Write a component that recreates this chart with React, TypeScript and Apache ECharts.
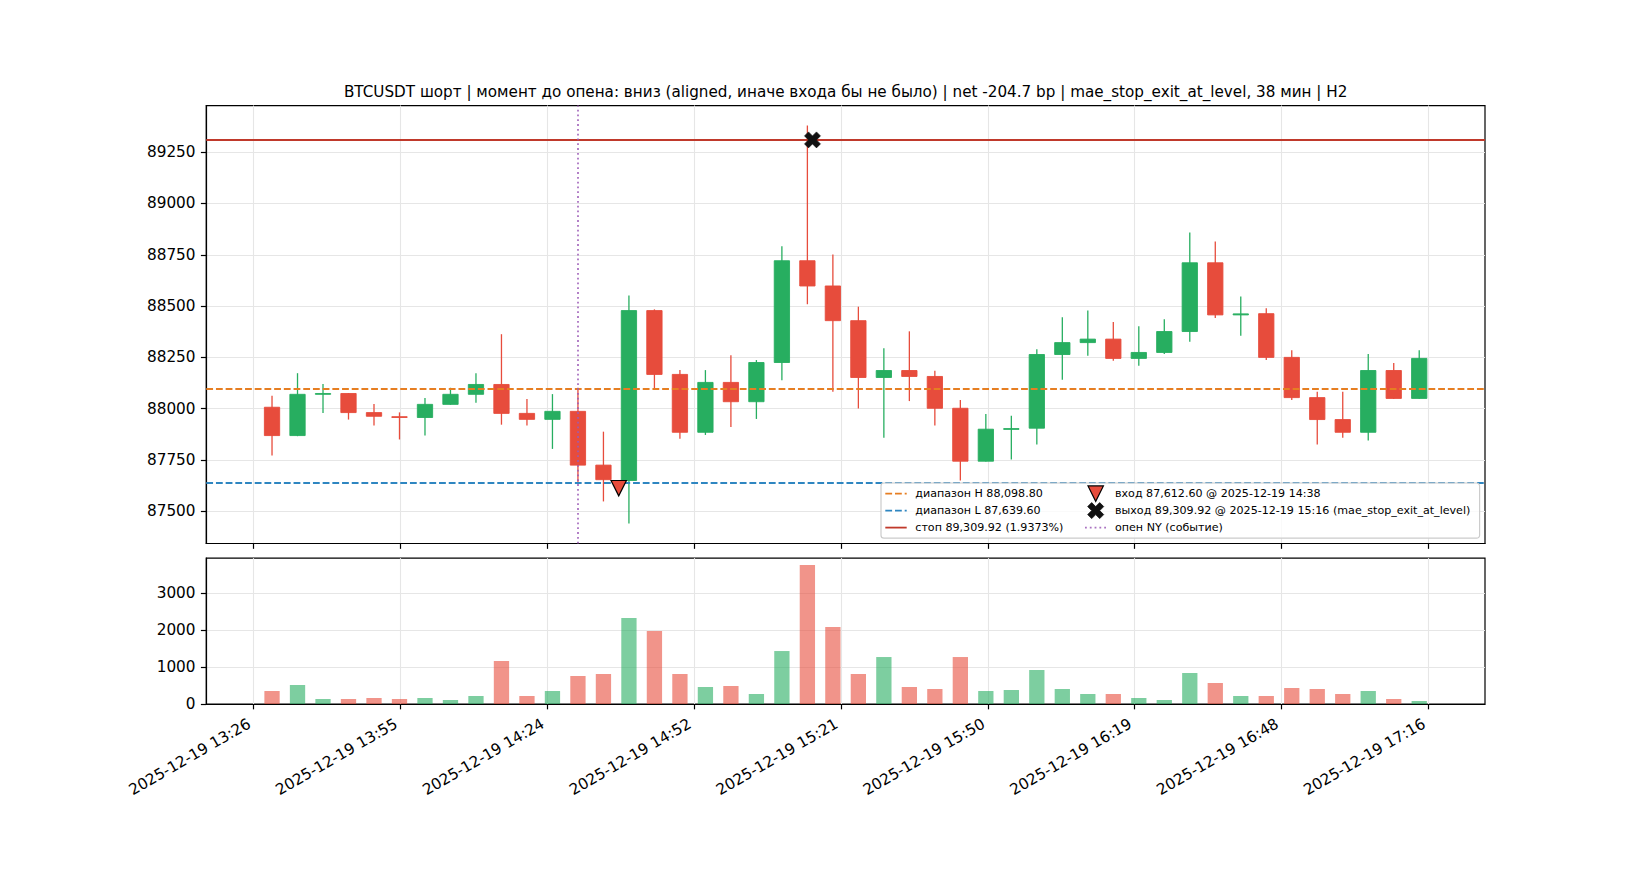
import React, { useEffect, useRef } from "react";
import * as echarts from "echarts";

// ---------- data ----------
const datePrefix = "2025-12-19";
const times = [
  "13:30", "13:35", "13:40", "13:45", "13:50", "13:55", "14:00", "14:05", "14:10", "14:15",
  "14:20", "14:25", "14:30", "14:35", "14:40", "14:45", "14:50", "14:55", "15:00", "15:05",
  "15:10", "15:15", "15:20", "15:25", "15:30", "15:35", "15:40", "15:45", "15:50", "15:55",
  "16:00", "16:05", "16:10", "16:15", "16:20", "16:25", "16:30", "16:35", "16:40", "16:45",
  "16:50", "16:55", "17:00", "17:05", "17:10", "17:15",
];
const opens = [
  88007, 87869, 88070, 88074, 87981, 87961, 87957, 88021, 88070, 88118,
  87977, 87948, 87987, 87725, 87650, 88478, 88167, 87885, 88128, 88034,
  88225, 88721, 88598, 88429, 88152, 88186, 88157, 88002, 87744, 87900,
  87905, 88264, 88322, 88339, 88245, 88274, 88376, 88711, 88457, 88463,
  88250, 88054, 87947, 87885, 88186, 88050,
];
const highs = [
  88063, 88173, 88120, 88076, 88023, 87982, 88052, 88102, 88173, 88363,
  88047, 88071, 88102, 87888, 88552, 88484, 88188, 88188, 88261, 88237,
  88792, 89380, 88751, 88497, 88295, 88377, 88185, 88042, 87974, 87965,
  88290, 88445, 88479, 88423, 88402, 88436, 88858, 88815, 88547, 88489,
  88285, 88083, 88083, 88266, 88223, 88285,
];
const lows = [
  87772, 87866, 87979, 87947, 87918, 87850, 87869, 88019, 88029, 87922,
  87918, 87804, 87642, 87548, 87440, 88099, 87853, 87872, 87911, 87950,
  88139, 88509, 88083, 88001, 87858, 88037, 87918, 87650, 87742, 87752,
  87825, 88141, 88258, 88233, 88209, 88266, 88326, 88442, 88355, 88237,
  88042, 87825, 87858, 87845, 88047, 88048,
];
const closes = [
  87869, 88070, 88074, 87981, 87963, 87957, 88021, 88070, 88118, 87977,
  87948, 87987, 87725, 87654, 88478, 88167, 87885, 88128, 88034, 88225,
  88721, 88598, 88429, 88152, 88186, 88157, 88002, 87744, 87900, 87903,
  88264, 88322, 88339, 88245, 88274, 88376, 88711, 88457, 88462, 88250,
  88054, 87947, 87885, 88186, 88050, 88245,
];
const volumes = [
  351, 514, 135, 135, 162, 135, 162, 108, 216, 1162,
  216, 351, 757, 811, 2324, 1973, 811, 459, 486, 270,
  1432, 3757, 2081, 811, 1270, 459, 405, 1270, 351, 378,
  919, 405, 270, 270, 162, 108, 838, 568, 216, 216,
  432, 405, 270, 351, 135, 81,
];

const rangeHigh = 88098.8;
const rangeLow = 87639.6;
const stopLevel = 89309.92;
const entryTime = "14:38";
const entryPrice = 87612.6;
const exitTime = "15:16";
const exitPrice = 89309.92;
const exitReason = "mae_stop_exit_at_level";
const nyOpenTime = "14:30";

const xTickDayFractions = [0.56, 0.58, 0.6, 0.62, 0.64, 0.66, 0.68, 0.7, 0.72];
const priceTicks = [87500, 87750, 88000, 88250, 88500, 88750, 89000, 89250];
const volumeTicks = [0, 1000, 2000, 3000];

const titleText =
  "BTCUSDT шорт | момент до опена: вниз (aligned, иначе входа бы не было) | net -204.7 bp | mae_stop_exit_at_level, 38 мин | H2";

// ---------- style ----------
const GREEN = "#27ae60";
const RED = "#e74c3c";
const ORANGE = "#e67e22";
const BLUE = "#2e86c1";
const STOP = "#c0392b";
const PURPLE = "rgba(155,89,182,0.85)";
const FONT = "DejaVu Sans";
const TICK_FS = 15.28;
const TITLE_FS = 15.2;
const LEG_FS = 11.1;
const BAR_MIN = 5; // candle period, minutes
const BODY_W = 0.6 * BAR_MIN;

const GRID_L = 206.25;
const GRID_W = 1278.75;
const MAIN_TOP = 105.6;
const MAIN_H = 437.9;
const VOL_TOP = 558.1;
const VOL_H = 145.9;

const toMin = (s: string) => {
  const [h, m] = s.split(":").map(Number);
  return h * 60 + m;
};
const pad2 = (n: number) => (n < 10 ? "0" + n : "" + n);
const fmt2 = (v: number) =>
  v.toLocaleString("en-US", { minimumFractionDigits: 2, maximumFractionDigits: 2 });

const X_PATH = "M1,0 L2,1 L3,0 L4,1 L3,2 L4,3 L3,4 L2,3 L1,4 L0,3 L1,2 L0,1 Z";

function buildOption() {
  const tMins = times.map(toMin);
  const xTicks = xTickDayFractions.map((f) => f * 1440);
  const xMin = tMins[0] - BODY_W / 2;
  const xMax = tMins[tMins.length - 1] + BODY_W / 2;
  const xPad = (xMax - xMin) * 0.05;
  const pLo = Math.min(...lows);
  const pHi = Math.max(...highs);
  const pPad = (pHi - pLo) * 0.05;
  const vMax = Math.max(...volumes) * 1.05;

  const candleData = tMins.map((t, i) => [t, opens[i], closes[i], lows[i], highs[i]]);
  const volData = tMins.map((t, i) => [t, volumes[i], closes[i] >= opens[i] ? 1 : 0]);

  const stopPct = ((stopLevel - entryPrice) / entryPrice) * 100;

  const axisTick = (vals: number[]) => ({
    show: true,
    customValues: vals,
    length: 5.35,
    inside: false,
    lineStyle: { color: "#000", width: 1.2 },
  });
  const splitLine = { show: true, lineStyle: { color: "#e6e6e6", width: 1.1 } };
  const axisLine = { show: true, lineStyle: { color: "#000", width: 1.2 } };

  const timeLabel = (v: number) => {
    const m = Math.floor(v + 1e-6);
    return `${datePrefix} ${pad2(Math.floor(m / 60))}:${pad2(m % 60)}`;
  };

  // legend
  const lx = 881;
  const ly = 483;
  const lw = 598.6;
  const lh = 55.2;
  const rows = [493.6, 510.6, 527.6];
  const c1h = [885.3, 906.7];
  const c1t = 915.3;
  const c2h = [1085, 1106.4];
  const c2m = 1095.7;
  const c2t = 1115;
  const legText = (text: string, x: number, y: number) => ({
    type: "text",
    z: 101,
    x,
    y,
    style: { text, fontSize: LEG_FS, fontFamily: FONT, fill: "#000", align: "left", verticalAlign: "middle" },
  });
  const legLine = (x1: number, x2: number, y: number, stroke: string, dash?: number[]) => ({
    type: "line",
    z: 101,
    shape: { x1, y1: y, x2, y2: y },
    style: { stroke, lineWidth: 1.8, lineDash: dash || null },
  });
  const ts = 7.7;
  const tri = {
    type: "polygon",
    z: 101,
    shape: {
      points: [
        [c2m - ts, rows[0] - ts],
        [c2m + ts, rows[0] - ts],
        [c2m, rows[0] + ts],
      ],
    },
    style: { fill: RED, stroke: "#000", lineWidth: 1.2 },
  };
  const xs = 4;
  const xPts = [
    [1, 0], [2, 1], [3, 0], [4, 1], [3, 2], [4, 3], [3, 4], [2, 3], [1, 4], [0, 3], [1, 2], [0, 1],
  ].map(([a, b]) => [c2m + (a - 2) * xs, rows[1] + (b - 2) * xs]);
  const xMark = {
    type: "polygon",
    z: 101,
    shape: { points: xPts },
    style: { fill: "#111", stroke: "#111", lineWidth: 0.8 },
  };

  const graphic = [
    {
      type: "text",
      x: GRID_L + GRID_W / 2,
      y: 92,
      style: {
        text: titleText,
        fontSize: TITLE_FS,
        fontFamily: FONT,
        fill: "#000",
        align: "center",
        verticalAlign: "middle",
      },
    },
    {
      type: "rect",
      z: 100,
      shape: { x: lx, y: ly, width: lw, height: lh, r: 3 },
      style: { fill: "rgba(255,255,255,0.8)", stroke: "#cccccc", lineWidth: 1.2 },
    },
    legLine(c1h[0], c1h[1], rows[0], ORANGE, [6.8, 2.9]),
    legLine(c1h[0], c1h[1], rows[1], BLUE, [6.8, 2.9]),
    legLine(c1h[0], c1h[1], rows[2], STOP),
    legText(`диапазон H ${fmt2(rangeHigh)}`, c1t, rows[0]),
    legText(`диапазон L ${fmt2(rangeLow)}`, c1t, rows[1]),
    legText(`стоп ${fmt2(stopLevel)} (${stopPct.toFixed(4)}%)`, c1t, rows[2]),
    tri,
    xMark,
    legLine(c2h[0], c2h[1], rows[2], PURPLE, [1.8, 3]),
    legText(`вход ${fmt2(entryPrice)} @ ${datePrefix} ${entryTime}`, c2t, rows[0]),
    legText(`выход ${fmt2(exitPrice)} @ ${datePrefix} ${exitTime} (${exitReason})`, c2t, rows[1]),
    legText("опен NY (событие)", c2t, rows[2]),
  ];

  return {
    animation: false,
    backgroundColor: "#ffffff",
    textStyle: { fontFamily: FONT },
    grid: [
      {
        left: GRID_L,
        top: MAIN_TOP,
        width: GRID_W,
        height: MAIN_H,
        show: true,
        borderColor: "#000",
        borderWidth: 1.2,
        backgroundColor: "transparent",
      },
      {
        left: GRID_L,
        top: VOL_TOP,
        width: GRID_W,
        height: VOL_H,
        show: true,
        borderColor: "#000",
        borderWidth: 1.2,
        backgroundColor: "transparent",
      },
    ],
    xAxis: [
      {
        type: "value",
        gridIndex: 0,
        min: xMin - xPad,
        max: xMax + xPad,
        axisLine,
        axisTick: axisTick(xTicks),
        axisLabel: { show: false, customValues: xTicks },
        splitLine,
      },
      {
        type: "value",
        gridIndex: 1,
        min: xMin - xPad,
        max: xMax + xPad,
        axisLine,
        axisTick: axisTick(xTicks),
        axisLabel: {
          show: true,
          customValues: xTicks,
          formatter: timeLabel,
          rotate: 30,
          margin: 16,
          padding: [0, 5, 0, 0],
          fontSize: TICK_FS,
          fontFamily: FONT,
          color: "#000",
        },
        splitLine,
      },
    ],
    yAxis: [
      {
        type: "value",
        gridIndex: 0,
        min: pLo - pPad,
        max: pHi + pPad,
        axisLine,
        axisTick: axisTick(priceTicks),
        axisLabel: {
          show: true,
          customValues: priceTicks,
          formatter: (v: number) => String(Math.round(v)),
          margin: 10.7,
          fontSize: TICK_FS,
          fontFamily: FONT,
          color: "#000",
        },
        splitLine,
      },
      {
        type: "value",
        gridIndex: 1,
        min: 0,
        max: vMax,
        axisLine,
        axisTick: axisTick(volumeTicks),
        axisLabel: {
          show: true,
          customValues: volumeTicks,
          formatter: (v: number) => String(Math.round(v)),
          margin: 10.7,
          fontSize: TICK_FS,
          fontFamily: FONT,
          color: "#000",
        },
        splitLine,
      },
    ],
    series: [
      {
        type: "scatter",
        xAxisIndex: 0,
        yAxisIndex: 0,
        data: [],
        z: 1,
        silent: true,
        markLine: {
          silent: true,
          symbol: ["none", "none"],
          label: { show: false },
          emphasis: { disabled: true },
          data: [
            { yAxis: stopLevel, lineStyle: { color: STOP, width: 1.8, type: "solid" } },
            { yAxis: rangeHigh, lineStyle: { color: ORANGE, width: 1.8, type: [6.8, 2.9] } },
            { yAxis: rangeLow, lineStyle: { color: BLUE, width: 1.8, type: [6.8, 2.9] } },
            { xAxis: toMin(nyOpenTime), lineStyle: { color: PURPLE, width: 1.8, type: [1.8, 3] } },
          ],
        },
      },
      {
        type: "custom",
        xAxisIndex: 0,
        yAxisIndex: 0,
        z: 2,
        silent: true,
        data: candleData,
        encode: { x: 0, y: [1, 2, 3, 4] },
        renderItem: (params: any, api: any) => {
          const t = api.value(0);
          const o = api.value(1);
          const c = api.value(2);
          const l = api.value(3);
          const h = api.value(4);
          const color = c >= o ? GREEN : RED;
          const pO = api.coord([t, o]);
          const pC = api.coord([t, c]);
          const pL = api.coord([t, l]);
          const pH = api.coord([t, h]);
          const w = api.size([BODY_W, 0])[0];
          const top = Math.min(pO[1], pC[1]);
          const hh = Math.max(Math.abs(pO[1] - pC[1]), 0.8);
          return {
            type: "group",
            children: [
              {
                type: "line",
                shape: { x1: pH[0], y1: pH[1], x2: pL[0], y2: pL[1] },
                style: { stroke: color, lineWidth: 1.3 },
              },
              {
                type: "rect",
                shape: { x: pO[0] - w / 2, y: top, width: w, height: hh },
                style: { fill: color, stroke: color, lineWidth: 0.9 },
              },
            ],
          };
        },
      },
      {
        type: "custom",
        xAxisIndex: 1,
        yAxisIndex: 1,
        z: 2,
        silent: true,
        data: volData,
        encode: { x: 0, y: 1 },
        renderItem: (params: any, api: any) => {
          const t = api.value(0);
          const v = api.value(1);
          const up = api.value(2);
          const p1 = api.coord([t - BODY_W / 2, v]);
          const p2 = api.coord([t + BODY_W / 2, 0]);
          return {
            type: "rect",
            shape: { x: p1[0], y: p1[1], width: p2[0] - p1[0], height: p2[1] - p1[1] },
            style: { fill: up ? GREEN : RED, opacity: 0.6 },
          };
        },
      },
      {
        type: "scatter",
        xAxisIndex: 0,
        yAxisIndex: 0,
        z: 5,
        silent: true,
        data: [[toMin(entryTime), entryPrice]],
        symbol: "triangle",
        symbolRotate: 180,
        symbolSize: [15.4, 15.4],
        itemStyle: { color: RED, borderColor: "#000", borderWidth: 1.2, opacity: 1 },
      },
      {
        type: "scatter",
        xAxisIndex: 0,
        yAxisIndex: 0,
        z: 5,
        silent: true,
        data: [[toMin(exitTime), exitPrice]],
        symbol: "path://" + X_PATH,
        symbolSize: 16,
        itemStyle: { color: "#111", borderColor: "#111", borderWidth: 0.6, opacity: 1 },
      },
    ],
    graphic,
  };
}

export default function App() {
  const ref = useRef<HTMLDivElement>(null);
  useEffect(() => {
    if (!ref.current) return;
    const chart = echarts.init(ref.current, null, { renderer: "svg" });
    chart.setOption(buildOption() as any);
    return () => chart.dispose();
  }, []);
  return (
    <div
      ref={ref}
      style={{ position: "absolute", left: 0, top: 0, width: 1650, height: 880, background: "#fff" }}
    />
  );
}
